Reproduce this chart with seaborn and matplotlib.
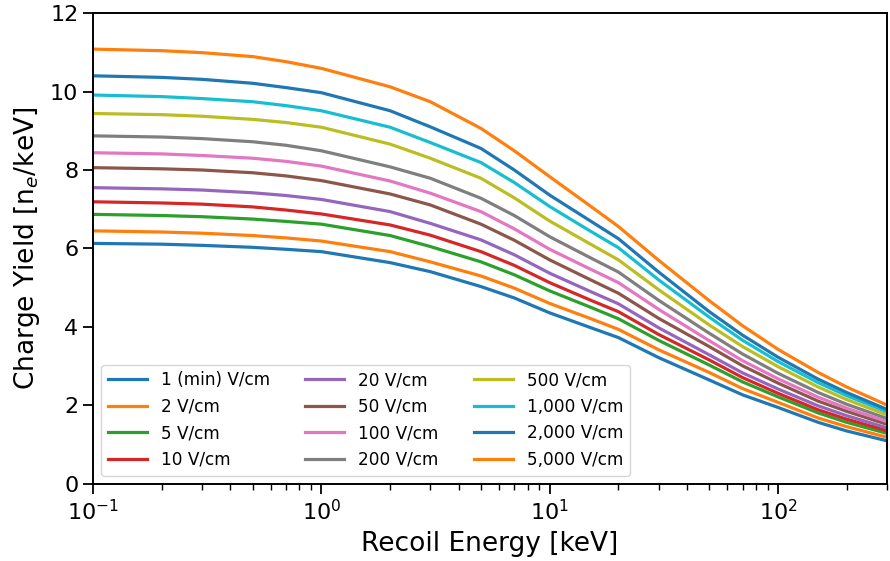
import numpy as np
import pandas as pd
import matplotlib
matplotlib.use("Agg")
import matplotlib.pyplot as plt
import seaborn as sns

energies = [0.1, 0.2, 0.3, 0.5, 0.7, 1, 2, 3, 5, 7, 10, 15, 20, 30, 50, 70, 100, 150, 200, 300]
fields = ["1 (min) V/cm", "2 V/cm", "5 V/cm", "10 V/cm", "20 V/cm", "50 V/cm",
          "100 V/cm", "200 V/cm", "500 V/cm", "1,000 V/cm", "2,000 V/cm", "5,000 V/cm"]

y_1 = [6.13, 6.11, 6.08, 6.03, 5.98, 5.92, 5.64, 5.41, 5.03, 4.74, 4.36, 3.99, 3.73, 3.22, 2.65, 2.27, 1.95, 1.57, 1.35, 1.10]
y_2 = [6.45, 6.42, 6.39, 6.33, 6.27, 6.19, 5.92, 5.66, 5.30, 4.99, 4.60, 4.22, 3.94, 3.42, 2.84, 2.43, 2.08, 1.68, 1.46, 1.19]
y_5 = [6.87, 6.84, 6.81, 6.75, 6.69, 6.62, 6.33, 6.05, 5.66, 5.33, 4.92, 4.51, 4.21, 3.66, 3.03, 2.60, 2.22, 1.81, 1.57, 1.29]
y_10 = [7.19, 7.16, 7.13, 7.06, 6.98, 6.88, 6.60, 6.34, 5.92, 5.57, 5.13, 4.69, 4.39, 3.81, 3.16, 2.71, 2.31, 1.89, 1.65, 1.36]
y_20 = [7.55, 7.52, 7.49, 7.42, 7.35, 7.25, 6.94, 6.64, 6.22, 5.84, 5.37, 4.91, 4.59, 3.98, 3.29, 2.83, 2.42, 1.99, 1.74, 1.43]
y_50 = [8.06, 8.03, 8.00, 7.93, 7.85, 7.73, 7.39, 7.11, 6.62, 6.21, 5.71, 5.21, 4.86, 4.22, 3.50, 3.01, 2.57, 2.11, 1.85, 1.52]
y_100 = [8.44, 8.41, 8.37, 8.30, 8.22, 8.10, 7.72, 7.41, 6.94, 6.50, 5.98, 5.48, 5.13, 4.45, 3.65, 3.14, 2.68, 2.21, 1.93, 1.59]
y_200 = [8.87, 8.84, 8.80, 8.72, 8.63, 8.49, 8.08, 7.79, 7.28, 6.84, 6.30, 5.77, 5.40, 4.68, 3.84, 3.31, 2.82, 2.33, 2.03, 1.67]
y_500 = [9.44, 9.41, 9.37, 9.29, 9.21, 9.09, 8.66, 8.30, 7.79, 7.29, 6.70, 6.12, 5.71, 4.95, 4.05, 3.50, 2.99, 2.47, 2.15, 1.76]
y_1000 = [9.91, 9.87, 9.82, 9.74, 9.64, 9.51, 9.09, 8.70, 8.19, 7.68, 7.07, 6.45, 6.02, 5.20, 4.25, 3.66, 3.12, 2.58, 2.25, 1.84]
y_2000 = [10.40, 10.36, 10.31, 10.21, 10.10, 9.97, 9.51, 9.10, 8.55, 8.00, 7.36, 6.71, 6.25, 5.40, 4.39, 3.79, 3.23, 2.67, 2.33, 1.90]
y_5000 = [11.08, 11.04, 10.99, 10.89, 10.76, 10.59, 10.12, 9.74, 9.06, 8.49, 7.83, 7.09, 6.56, 5.70, 4.67, 4.03, 3.43, 2.84, 2.47, 2.01]

series = [y_1, y_2, y_5, y_10, y_20, y_50, y_100, y_200, y_500, y_1000, y_2000, y_5000]

rows = []
for name, ys in zip(fields, series):
    for e, v in zip(energies, ys):
        rows.append({"E": e, "Q": v, "field": name})
df = pd.DataFrame(rows)

fig = plt.figure(figsize=(8.9, 5.61), dpi=100)
ax = fig.add_axes([0.1045, 0.1373, 0.8921, 0.8395])

palette = sns.color_palette("tab10", 12)
sns.lineplot(data=df, x="E", y="Q", hue="field", hue_order=fields, palette=palette,
             linewidth=2.3, ax=ax, sort=True, estimator=None)

ax.set_xscale("log")
ax.set_xlim(0.1, 300)
ax.set_ylim(0, 12)
ax.set_yticks([0, 2, 4, 6, 8, 10, 12])
ax.tick_params(axis="both", which="major", labelsize=16, length=7, width=1.3)
ax.tick_params(axis="x", which="minor", length=4, width=1)
for s in ax.spines.values():
    s.set_linewidth(1.4)

ax.set_xlabel("Recoil Energy [keV]", fontsize=19, labelpad=5)
ax.set_ylabel("Charge Yield [n$_e$/keV]", fontsize=19, labelpad=6)

handles, labels = ax.get_legend_handles_labels()
ax.legend(handles, labels, ncol=3, loc="lower left", fontsize=12.2,
          handlelength=2.3, columnspacing=2.1, framealpha=0.8)

fig.savefig("out.png", dpi=100)
